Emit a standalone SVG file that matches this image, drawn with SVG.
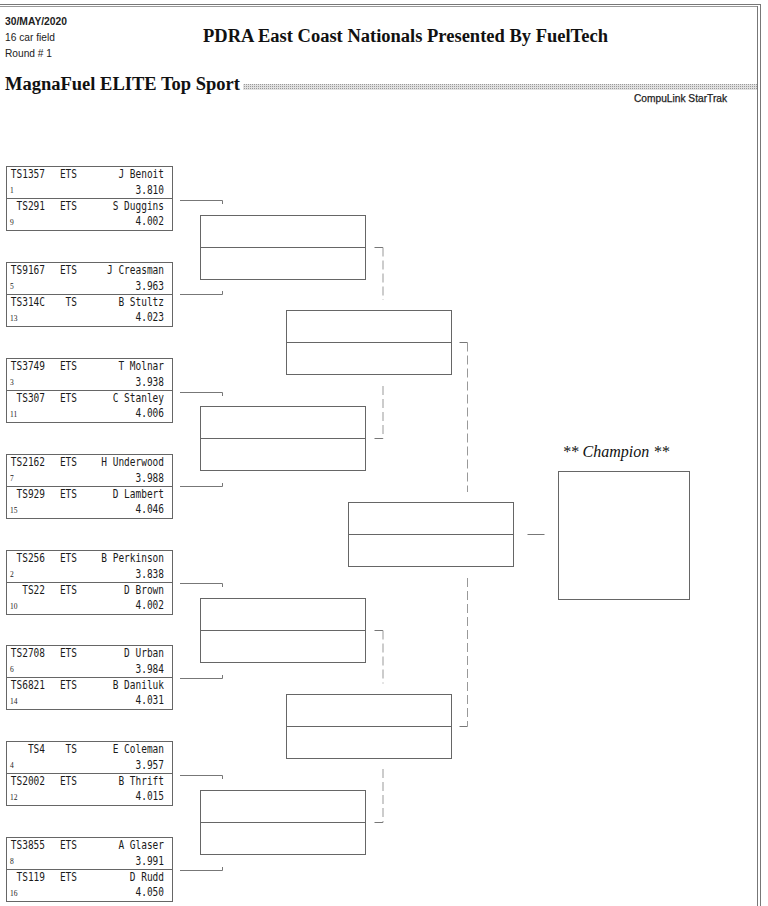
<svg xmlns="http://www.w3.org/2000/svg" width="768" height="906" viewBox="0 0 768 906">
<style>
.box{fill:none;stroke:#666;stroke-width:1}
.div{stroke:#666;stroke-width:1}
.mono{font-family:"DejaVu Sans Mono",monospace;font-size:12px;fill:#1a1a1a;text-anchor:end}
.seed{font-family:"Liberation Serif",serif;font-size:7.5px;fill:#222}
.conn path{fill:none;stroke:#777;stroke-width:1}
.conn path.dash{stroke:#999;stroke-dasharray:9 4}
.hs{font-family:"Liberation Sans",sans-serif;fill:#222}
.ttl{font-family:"Liberation Serif",serif;font-weight:bold;font-size:18.5px;fill:#111}
</style>
<defs>
<pattern id="dots" width="2" height="2" patternUnits="userSpaceOnUse"><rect width="2" height="2" fill="#e2e2e2"/><rect width="1" height="1" fill="#9a9a9a"/></pattern>
</defs>
<rect width="768" height="906" fill="#fff"/>
<g id="frame">
<line x1="0" y1="4.5" x2="760" y2="4.5" stroke="#777"/>
<line x1="0" y1="6.5" x2="757" y2="6.5" stroke="#999"/>
<line x1="757.5" y1="6" x2="757.5" y2="906" stroke="#777"/>
<line x1="760.5" y1="4" x2="760.5" y2="906" stroke="#777"/>
</g>
<g id="header">
<text class="hs" x="5" y="25" font-size="10.3" font-weight="bold">30/MAY/2020</text>
<text class="hs" x="5" y="41" font-size="10.2">16 car field</text>
<text class="hs" x="5" y="57" font-size="10.2">Round # 1</text>
<text class="ttl" x="203" y="41.5">PDRA East Coast Nationals Presented By FuelTech</text>
<text class="ttl" x="5" y="89.5">MagnaFuel ELITE Top Sport</text>
<rect x="243" y="84" width="514" height="6" fill="url(#dots)"/>
<text class="hs" x="634" y="102" font-size="10.2" stroke="#222" stroke-width="0.25">CompuLink StarTrak</text>
</g>

<g id="pair1" transform="translate(0,166.5)">
<rect class="box" x="6.5" y="0" width="166" height="64"/><line class="div" x1="6.5" y1="32" x2="172.5" y2="32"/>
<g class="mono" transform="scale(.79 1)">
<text x="57" y="11.5">TS1357</text><text x="97.5" y="11.5">ETS</text><text x="207.6" y="11.5">J Benoit</text>
<text x="207.6" y="27.5">3.810</text>
<text x="57" y="43.5">TS291</text><text x="97.5" y="43.5">ETS</text><text x="207.6" y="43.5">S Duggins</text>
<text x="207.6" y="59">4.002</text>
</g>
<text class="seed" x="10" y="26.5">1</text><text class="seed" x="10" y="58">9</text>
</g>

<g id="pair2" transform="translate(0,262.5)">
<rect class="box" x="6.5" y="0" width="166" height="64"/><line class="div" x1="6.5" y1="32" x2="172.5" y2="32"/>
<g class="mono" transform="scale(.79 1)">
<text x="57" y="11.5">TS9167</text><text x="97.5" y="11.5">ETS</text><text x="207.6" y="11.5">J Creasman</text>
<text x="207.6" y="27.5">3.963</text>
<text x="57" y="43.5">TS314C</text><text x="97.5" y="43.5">TS</text><text x="207.6" y="43.5">B Stultz</text>
<text x="207.6" y="59">4.023</text>
</g>
<text class="seed" x="10" y="26.5">5</text><text class="seed" x="10" y="58">13</text>
</g>

<g id="pair3" transform="translate(0,358.5)">
<rect class="box" x="6.5" y="0" width="166" height="64"/><line class="div" x1="6.5" y1="32" x2="172.5" y2="32"/>
<g class="mono" transform="scale(.79 1)">
<text x="57" y="11.5">TS3749</text><text x="97.5" y="11.5">ETS</text><text x="207.6" y="11.5">T Molnar</text>
<text x="207.6" y="27.5">3.938</text>
<text x="57" y="43.5">TS307</text><text x="97.5" y="43.5">ETS</text><text x="207.6" y="43.5">C Stanley</text>
<text x="207.6" y="59">4.006</text>
</g>
<text class="seed" x="10" y="26.5">3</text><text class="seed" x="10" y="58">11</text>
</g>

<g id="pair4" transform="translate(0,454.5)">
<rect class="box" x="6.5" y="0" width="166" height="64"/><line class="div" x1="6.5" y1="32" x2="172.5" y2="32"/>
<g class="mono" transform="scale(.79 1)">
<text x="57" y="11.5">TS2162</text><text x="97.5" y="11.5">ETS</text><text x="207.6" y="11.5">H Underwood</text>
<text x="207.6" y="27.5">3.988</text>
<text x="57" y="43.5">TS929</text><text x="97.5" y="43.5">ETS</text><text x="207.6" y="43.5">D Lambert</text>
<text x="207.6" y="59">4.046</text>
</g>
<text class="seed" x="10" y="26.5">7</text><text class="seed" x="10" y="58">15</text>
</g>

<g id="pair5" transform="translate(0,550.5)">
<rect class="box" x="6.5" y="0" width="166" height="64"/><line class="div" x1="6.5" y1="32" x2="172.5" y2="32"/>
<g class="mono" transform="scale(.79 1)">
<text x="57" y="11.5">TS256</text><text x="97.5" y="11.5">ETS</text><text x="207.6" y="11.5">B Perkinson</text>
<text x="207.6" y="27.5">3.838</text>
<text x="57" y="43.5">TS22</text><text x="97.5" y="43.5">ETS</text><text x="207.6" y="43.5">D Brown</text>
<text x="207.6" y="59">4.002</text>
</g>
<text class="seed" x="10" y="26.5">2</text><text class="seed" x="10" y="58">10</text>
</g>

<g id="pair6" transform="translate(0,645.5)">
<rect class="box" x="6.5" y="0" width="166" height="64"/><line class="div" x1="6.5" y1="32" x2="172.5" y2="32"/>
<g class="mono" transform="scale(.79 1)">
<text x="57" y="11.5">TS2708</text><text x="97.5" y="11.5">ETS</text><text x="207.6" y="11.5">D Urban</text>
<text x="207.6" y="27.5">3.984</text>
<text x="57" y="43.5">TS6821</text><text x="97.5" y="43.5">ETS</text><text x="207.6" y="43.5">B Daniluk</text>
<text x="207.6" y="59">4.031</text>
</g>
<text class="seed" x="10" y="26.5">6</text><text class="seed" x="10" y="58">14</text>
</g>

<g id="pair7" transform="translate(0,741.5)">
<rect class="box" x="6.5" y="0" width="166" height="64"/><line class="div" x1="6.5" y1="32" x2="172.5" y2="32"/>
<g class="mono" transform="scale(.79 1)">
<text x="57" y="11.5">TS4</text><text x="97.5" y="11.5">TS</text><text x="207.6" y="11.5">E Coleman</text>
<text x="207.6" y="27.5">3.957</text>
<text x="57" y="43.5">TS2002</text><text x="97.5" y="43.5">ETS</text><text x="207.6" y="43.5">B Thrift</text>
<text x="207.6" y="59">4.015</text>
</g>
<text class="seed" x="10" y="26.5">4</text><text class="seed" x="10" y="58">12</text>
</g>

<g id="pair8" transform="translate(0,837.5)">
<rect class="box" x="6.5" y="0" width="166" height="64"/><line class="div" x1="6.5" y1="32" x2="172.5" y2="32"/>
<g class="mono" transform="scale(.79 1)">
<text x="57" y="11.5">TS3855</text><text x="97.5" y="11.5">ETS</text><text x="207.6" y="11.5">A Glaser</text>
<text x="207.6" y="27.5">3.991</text>
<text x="57" y="43.5">TS119</text><text x="97.5" y="43.5">ETS</text><text x="207.6" y="43.5">D Rudd</text>
<text x="207.6" y="59">4.050</text>
</g>
<text class="seed" x="10" y="26.5">8</text><text class="seed" x="10" y="58">16</text>
</g>

<g id="r2-1"><rect class="box" x="200.5" y="215.5" width="165" height="64"/><line class="div" x1="200.5" y1="247.5" x2="365.5" y2="247.5"/></g>
<g id="r2-2"><rect class="box" x="200.5" y="406.5" width="165" height="64"/><line class="div" x1="200.5" y1="438.5" x2="365.5" y2="438.5"/></g>
<g id="r2-3"><rect class="box" x="200.5" y="598.5" width="165" height="64"/><line class="div" x1="200.5" y1="630.5" x2="365.5" y2="630.5"/></g>
<g id="r2-4"><rect class="box" x="200.5" y="790.5" width="165" height="64"/><line class="div" x1="200.5" y1="822.5" x2="365.5" y2="822.5"/></g>
<g id="r3-1"><rect class="box" x="286.5" y="310.5" width="165" height="64"/><line class="div" x1="286.5" y1="342.5" x2="451.5" y2="342.5"/></g>
<g id="r3-2"><rect class="box" x="286.5" y="694.5" width="165" height="64"/><line class="div" x1="286.5" y1="726.5" x2="451.5" y2="726.5"/></g>
<g id="final"><rect class="box" x="348.5" y="502.5" width="165" height="64"/><line class="div" x1="348.5" y1="534.5" x2="513.5" y2="534.5"/></g>
<g id="champion">
<text x="562.5" y="457" font-family="'Liberation Serif',serif" font-style="italic" font-size="16" fill="#111">** Champion **</text>
<rect class="box" x="558.5" y="471.5" width="131" height="128" stroke="#888"/>
</g>

<g id="connectors" class="conn">
<path d="M180 200.5H222.5V204"/>
<path d="M180 294.5H222.5V291"/>
<path d="M180 392.5H222.5V396"/>
<path d="M180 486.5H222.5V483"/>
<path d="M180 583.5H222.5V587"/>
<path d="M180 678.5H222.5V675"/>
<path d="M180 775.5H222.5V779"/>
<path d="M180 870.5H222.5V867"/>
<path d="M374.5 247.5H383"/><path class="dash" d="M383 247.5V300"/>
<path d="M374.5 438.5H383"/><path class="dash" d="M383 386V438.5"/>
<path d="M374.5 630.5H383"/><path class="dash" d="M383 630.5V683.5"/>
<path d="M374.5 822.5H383"/><path class="dash" d="M383 769V822.5"/>
<path d="M459.5 342.5H467.5"/><path class="dash" d="M467.5 342.5V492"/>
<path d="M459.5 726.5H467.5"/><path class="dash" d="M467.5 578V726.5"/>
<path d="M527.5 534.5H544.5"/>
</g>
</svg>
